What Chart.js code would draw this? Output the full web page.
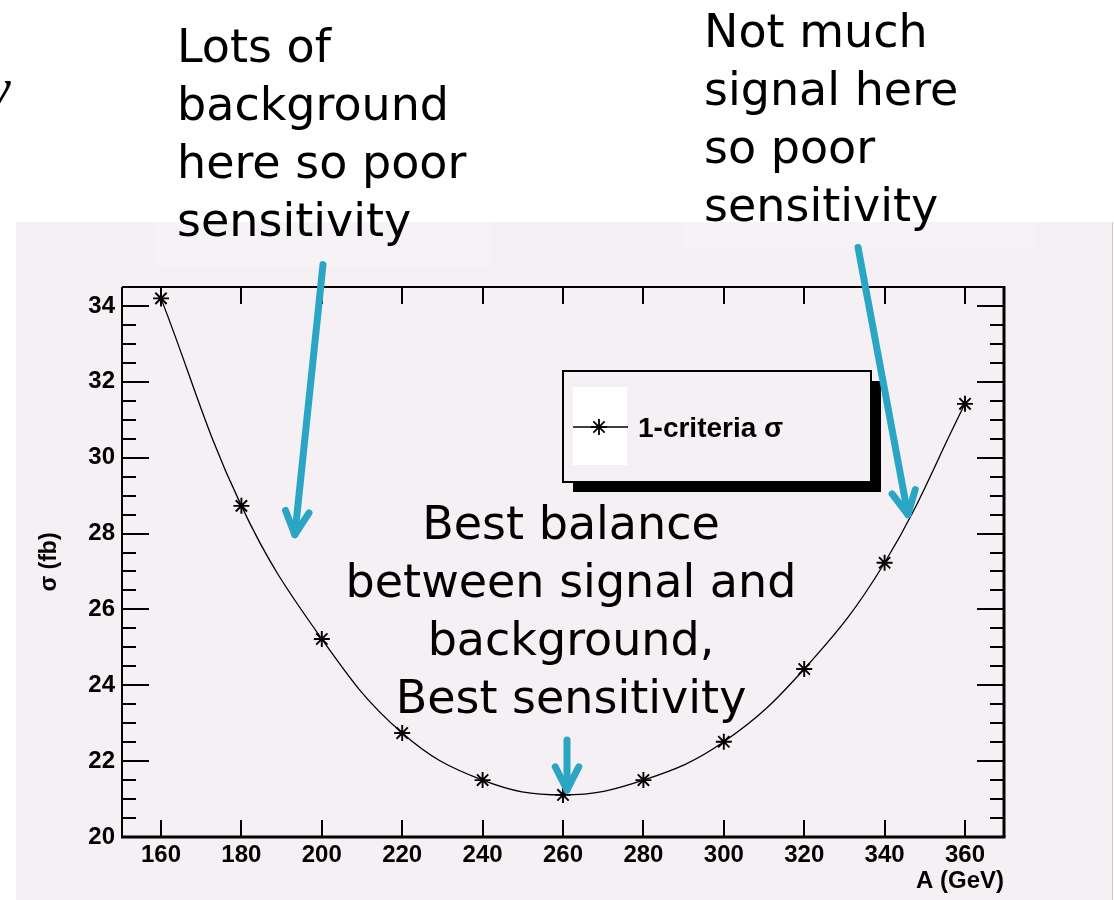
<!DOCTYPE html>
<html>
<head>
<meta charset="utf-8">
<title>1-criteria sigma vs A</title>
<script src="https://cdn.jsdelivr.net/npm/chart.js@4.4.0/dist/chart.umd.min.js"></script>
<style>
  html, body { margin: 0; padding: 0; background: #fff; }
  body { width: 1114px; height: 900px; position: relative; overflow: hidden; font-family: "DejaVu Sans", sans-serif; }
  #pad { position: absolute; left: 16px; top: 222px; width: 1096px; height: 678px; background: #f4f0f4; border-right: 1px solid #c9c5c9; }
  .fade { position: absolute; background: #f6f3f6; }
  #chartBox { position: absolute; left: 0; top: 0; width: 1114px; height: 900px; }
  .note { position: absolute; font-size: 46px; line-height: 58px; color: #000; white-space: nowrap; }
  #edge { position: absolute; left: -14px; top: 56px; font-family: "Liberation Serif", serif; font-style: italic; font-size: 56px; }
</style>
</head>
<body>
<div id="pad"></div>
<div class="fade" style="left:155px; top:222px; width:335px; height:45px;"></div>
<div class="fade" style="left:683px; top:222px; width:352px; height:25px;"></div>
<div id="edge">y</div>
<div id="chartBox"><canvas id="sigmaChart" width="1114" height="900"></canvas></div>
<div class="note" style="left:177px; top:17px;">Lots of<br>background<br>here so poor<br>sensitivity</div>
<div class="note" style="left:704px; top:2px;">Not much<br>signal here<br>so poor<br>sensitivity</div>
<div class="note" style="left:571px; top:494px; transform: translateX(-50%); text-align:center;">Best balance<br>between signal and<br>background,<br>Best sensitivity</div>

<script>
// valeurs
const massValues = [160, 180, 200, 220, 240, 260, 280, 300, 320, 340, 360];
const sigmaValues = [34.2, 28.73, 25.22, 22.74, 21.5, 21.11, 21.5, 22.51, 24.43, 27.23, 31.42];
const xTicks = [160, 180, 200, 220, 240, 260, 280, 300, 320, 340, 360];
const yTicks = [20, 22, 24, 26, 28, 30, 32, 34];
const legendLabel = '1-criteria \u03c3';
const xTitle = 'A (GeV)';
const yTitle = '\u03c3 (fb)';

// fleches d'annotation, en coordonnees des axes
const arrowStart = [[200.3, 35.09], [333.4, 35.54], [261, 22.56]];
const arrowEnd = [[193.3, 27.97], [345.8, 28.5], [261, 21.24]];

const AXIS_FONT = '"Liberation Sans", Arial, sans-serif';
const ARROW_COLOR = '#2aa6c4';
const PAD_COLOR = '#f4f0f4';

function line(ctx, x1, y1, x2, y2) {
    ctx.beginPath();
    ctx.moveTo(x1, y1);
    ctx.lineTo(x2, y2);
    ctx.stroke();
}

function drawArrow(ctx, x1, y1, x2, y2) {
    const ang = Math.atan2(y2 - y1, x2 - x1);
    const headLen = 26, spread = 0.47;
    ctx.save();
    ctx.strokeStyle = ARROW_COLOR;
    ctx.lineWidth = 7;
    ctx.lineCap = 'round';
    ctx.lineJoin = 'round';
    line(ctx, x1, y1, x2, y2);
    ctx.beginPath();
    ctx.moveTo(x2 - headLen * Math.cos(ang - spread), y2 - headLen * Math.sin(ang - spread));
    ctx.lineTo(x2, y2);
    ctx.lineTo(x2 - headLen * Math.cos(ang + spread), y2 - headLen * Math.sin(ang + spread));
    ctx.stroke();
    ctx.restore();
}

// cadre, graduations, legende et fleches
const framePlugin = {
    id: 'rootFrame',
    afterDraw(chart) {
        const ctx = chart.ctx;
        const { left, right, top, bottom } = chart.chartArea;
        const xs = chart.scales.x;
        const ys = chart.scales.y;

        ctx.save();
        ctx.strokeStyle = '#000';
        ctx.lineCap = 'butt';

        // cadre
        ctx.lineWidth = 2;
        line(ctx, left, top, right + 1, top);
        line(ctx, left, top, left, bottom);
        ctx.lineWidth = 3;
        line(ctx, left - 1, bottom, right + 1.5, bottom);
        line(ctx, right, top - 1, right, bottom);

        // graduations
        ctx.lineWidth = 2;
        xTicks.forEach(v => {
            const px = Math.round(xs.getPixelForValue(v));
            line(ctx, px, bottom, px, bottom - 17);
            line(ctx, px, top, px, top + 17);
        });
        yTicks.forEach(v => {
            const py = Math.round(ys.getPixelForValue(v));
            line(ctx, left, py, left + 27, py);
            line(ctx, right, py, right - 27, py);
            for (let k = 1; k <= 3; k++) {
                const mv = v + k * 0.5;
                if (mv >= ys.max) break;
                const my = Math.round(ys.getPixelForValue(mv));
                line(ctx, left, my, left + 14, my);
                line(ctx, right, my, right - 14, my);
            }
        });

        // legende
        const bx = left + 441, by = top + 84, bw = 308, bh = 111;
        ctx.fillStyle = '#000';
        ctx.fillRect(bx + 10, by + 10, bw, bh);
        ctx.fillStyle = PAD_COLOR;
        ctx.fillRect(bx, by, bw, bh);
        ctx.lineWidth = 2;
        ctx.strokeRect(bx, by, bw, bh);
        ctx.fillStyle = '#fff';
        ctx.fillRect(bx + 10, by + 16, 54, 78);
        ctx.lineWidth = 1.5;
        line(ctx, bx + 10, by + 56, bx + 65, by + 56);
        ctx.lineWidth = 1.8;
        Chart.helpers.drawPoint(ctx, { pointStyle: 'star', radius: 8, borderWidth: 1.8, rotation: 0 }, bx + 36, by + 56);
        ctx.fillStyle = '#000';
        ctx.font = 'bold 28px ' + AXIS_FONT;
        ctx.textBaseline = 'middle';
        ctx.textAlign = 'left';
        ctx.fillText(legendLabel, bx + 75, by + 58);
        ctx.restore();

        // fleches
        arrowStart.forEach((s, i) => {
            const e = arrowEnd[i];
            drawArrow(ctx,
                xs.getPixelForValue(s[0]), ys.getPixelForValue(s[1]),
                xs.getPixelForValue(e[0]), ys.getPixelForValue(e[1]));
        });
    }
};

const ctx = document.getElementById('sigmaChart');
const sigmaChart = new Chart(ctx, {
    type: 'line',
    data: {
        datasets: [{
            label: legendLabel,
            data: massValues.map((m, i) => ({ x: m, y: sigmaValues[i] })),
            borderColor: '#000',
            borderWidth: 1.3,
            tension: 0.4,
            fill: false,
            pointStyle: 'star',
            pointRadius: 8,
            pointBorderColor: '#000',
            pointBorderWidth: 1.9,
            clip: false
        }]
    },
    options: {
        responsive: false,
        animation: false,
        devicePixelRatio: 1,
        layout: { padding: { left: 0, top: 287, right: 110, bottom: 0 } },
        plugins: {
            legend: { display: false },
            tooltip: { enabled: false }
        },
        scales: {
            x: {
                type: 'linear',
                min: 150.3,
                max: 369.7,
                afterBuildTicks: s => { s.ticks = xTicks.map(v => ({ value: v })); },
                afterFit: s => { s.height = 63; },
                grid: { display: false, drawTicks: false },
                border: { display: false },
                ticks: {
                    color: '#000',
                    font: { family: AXIS_FONT, size: 24, weight: 'bold' },
                    padding: 4,
                    maxRotation: 0,
                    autoSkip: false
                },
                title: {
                    display: true,
                    text: xTitle,
                    align: 'end',
                    color: '#000',
                    font: { family: AXIS_FONT, size: 24, weight: 'bold' },
                    padding: { top: 0, bottom: 4 }
                }
            },
            y: {
                min: 20,
                max: 34.5,
                afterBuildTicks: s => { s.ticks = yTicks.map(v => ({ value: v })); },
                afterFit: s => { s.width = 122; },
                grid: { display: false, drawTicks: false },
                border: { display: false },
                ticks: {
                    color: '#000',
                    font: { family: AXIS_FONT, size: 24, weight: 'bold' },
                    padding: 7
                },
                title: {
                    display: true,
                    text: yTitle,
                    color: '#000',
                    font: { family: AXIS_FONT, size: 23, weight: 'bold' },
                    padding: { top: 36, bottom: 0 }
                }
            }
        }
    },
    plugins: [framePlugin]
});
</script>
</body>
</html>
